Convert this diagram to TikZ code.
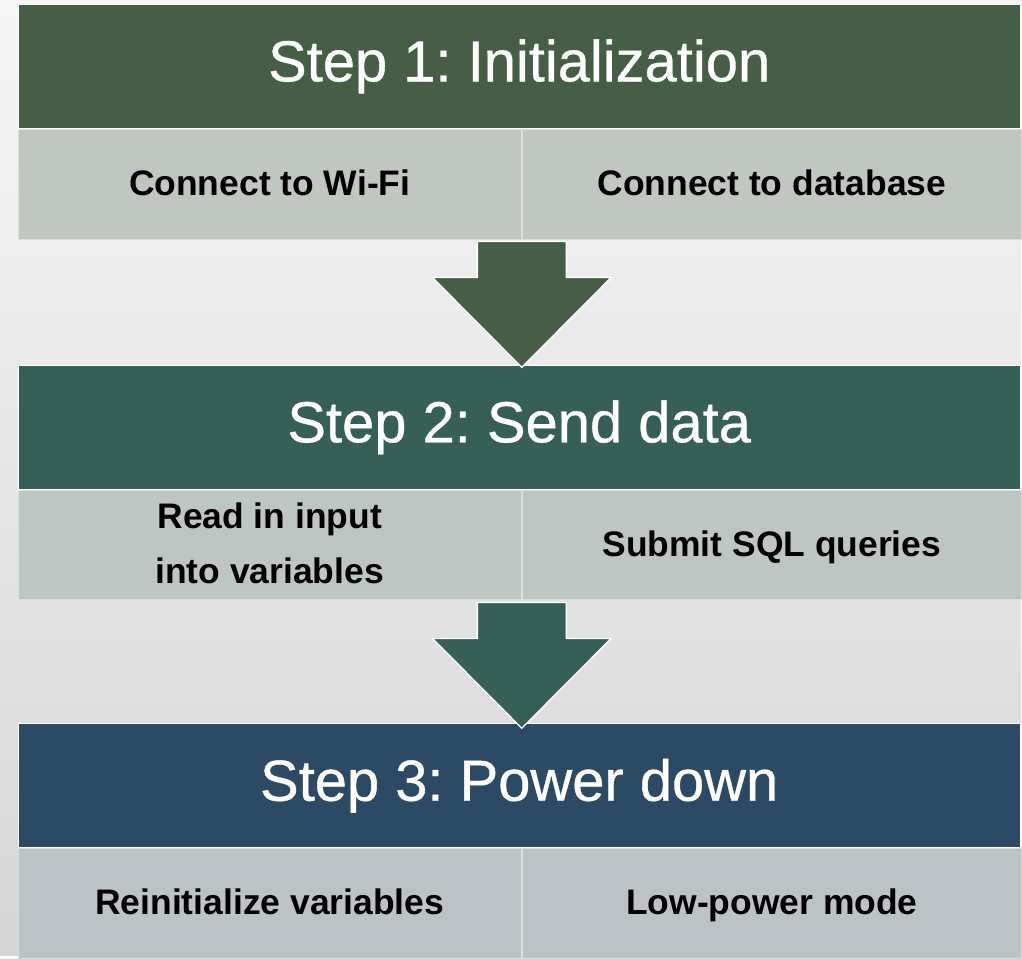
\documentclass[tikz,border=0pt]{standalone}
\usepackage{fontspec}
\setmainfont{Liberation Sans}
\newfontfamily\headfont[FakeBold=0.6]{Liberation Sans}
\usepackage{tikz}
\usetikzlibrary{calc, positioning}
\usepackage{xcolor}
\definecolor{mossgreen}{RGB}{69,94,69}
\definecolor{pinegreen}{RGB}{54,96,87}
\definecolor{slateblue}{RGB}{44,74,99}
\definecolor{mossgray}{RGB}{192,198,192}
\definecolor{pinegray}{RGB}{189,198,195}
\definecolor{slategray}{RGB}{188,195,198}
\definecolor{bgtop}{RGB}{246,246,246}
\definecolor{bgbottom}{RGB}{214,214,214}

\tikzset{
  stephead/.style={rectangle, draw=white, line width=0.8pt, text=white,
    minimum width=1004pt, minimum height=124pt, inner sep=0pt,
    font=\headfont\fontsize{58}{60}\selectfont\frenchspacing},
  taskcell/.style={rectangle, line width=1pt, text=black, align=center,
    minimum height=110pt, inner sep=0pt,
    font=\fontsize{35.5}{55}\selectfont\bfseries,
    execute at begin node=\strut, execute at end node=\strut},
}

% block arrow hanging below a point
\newcommand{\blockarrow}[2]{%
  \filldraw[draw=white, line width=1.3pt, fill=#2, line join=miter]
    ($(#1)+(-44.5,2)$) -- ++(89,0) -- ++(0,36) -- ++(45,0)
    -- ++(-89.5,90) -- ++(-89.5,-90) -- ++(45,0) -- cycle;}

\begin{document}
\begin{tikzpicture}[x=1pt, y=-1pt]
  % Background
  \shade[top color=bgtop, bottom color=bgbottom] (0,0) rectangle (1022,957);

  % Step 1
  \node[stephead, fill=mossgreen] (head1) at (520,66.5) {Step 1: Initialization};
  \node[taskcell, fill=mossgray, draw=white!45!mossgray, minimum width=504pt,
        anchor=north west] (wifi) at (head1.south west) {Connect to Wi-Fi};
  \node[taskcell, fill=mossgray, draw=white!45!mossgray, minimum width=500pt,
        anchor=north west] (dbase) at (wifi.north east) {Connect to database};

  % Step 2
  \node[stephead, fill=pinegreen] (head2) at (520,428) {Step 2: Send data};
  \node[taskcell, fill=pinegray, draw=white!45!pinegray, minimum width=504pt,
        anchor=north west] (input) at (head2.south west) {Read in input\strut\\into variables};
  \node[taskcell, fill=pinegray, draw=white!45!pinegray, minimum width=500pt,
        anchor=north west] (query) at (input.north east) {Submit SQL queries};

  % Step 3
  \node[stephead, fill=slateblue] (head3) at (520,787) {Step 3: Power down};
  \node[taskcell, fill=slategray, draw=white!45!slategray, minimum width=504pt,
        anchor=north west] (reinit) at (head3.south west) {Reinitialize variables};
  \node[taskcell, fill=slategray, draw=white!45!slategray, minimum width=500pt,
        anchor=north west] (lowpow) at (reinit.north east) {Low-power mode};

  % Arrows between steps
  \coordinate (gap1) at (wifi.south east);
  \coordinate (gap2) at (input.south east);
  \blockarrow{gap1}{mossgreen}
  \blockarrow{gap2}{pinegreen}
\end{tikzpicture}
\end{document}
